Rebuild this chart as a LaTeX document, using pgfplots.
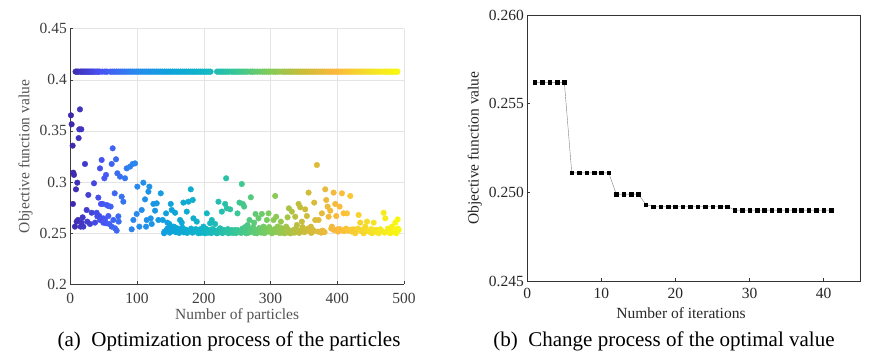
\documentclass[border=0pt]{standalone}
\usepackage{pgfplots}
\pgfplotsset{compat=1.18}
\usepackage{fontspec}
\setmainfont{Liberation Serif}
\definecolor{txtgray}{RGB}{60,60,60}
\definecolor{labgray}{RGB}{85,85,85}
\definecolor{gridgray}{RGB}{228,228,228}
\pgfplotstableread[row sep=\\]{
x y\\
1 0.3653\\ 2 0.3565\\ 3.5 0.3356\\ 4.5 0.3092\\ 5.5 0.3070\\ 4 0.2786\\ 8.5 0.2929\\ 10.5 0.2994\\ 7 0.2564\\ 11.5 0.2629\\
14.5 0.3711\\ 13.5 0.3516\\ 16.5 0.3516\\ 12.5 0.3430\\ 15.5 0.2564\\ 18.5 0.2655\\ 19.5 0.2564\\ 22 0.3177\\ 24.5 0.2727\\ 27 0.2874\\
29.5 0.2590\\ 32 0.2700\\ 35.5 0.2988\\ 39.5 0.2700\\ 42 0.2848\\ 43.5 0.2668\\ 44.5 0.3134\\ 47 0.3216\\ 46 0.2786\\ 48.5 0.2786\\
49.5 0.2645\\ 51 0.3037\\ 53.5 0.3070\\ 54.5 0.2776\\ 57 0.2766\\ 53.5 0.2597\\ 57 0.2668\\ 60.5 0.2760\\ 62 0.3177\\ 63.5 0.3330\\
64.5 0.2629\\ 66.5 0.2890\\ 68.5 0.3223\\ 69.5 0.2525\\ 70.5 0.3086\\ 72.5 0.2613\\ 74.5 0.3053\\ 77 0.2857\\ 79.5 0.2808\\ 82 0.3037\\
84.5 0.3134\\ 89.5 0.3151\\ 93.5 0.3177\\ 97 0.3183\\ 92 0.2538\\ 94.5 0.2629\\ 99.5 0.2688\\ 100.5 0.2955\\ 103.5 0.2564\\ 107 0.2727\\
109.5 0.2994\\ 112 0.2831\\ 113.5 0.2564\\ 114.5 0.2629\\ 117 0.2906\\ 118.5 0.2955\\ 120.5 0.2645\\ 122 0.2590\\ 124.5 0.2786\\ 127 0.2720\\
129.5 0.2792\\ 132 0.2629\\ 135.5 0.2890\\ 138.5 0.2629\\ 140.5 0.2499\\ 143.5 0.2694\\ 145.5 0.2603\\ 148.5 0.2590\\ 150.5 0.2786\\ 152 0.2727\\
154.5 0.2564\\ 157 0.2700\\ 159.5 0.2548\\ 162 0.2531\\ 164.5 0.2629\\ 167 0.2603\\ 169.5 0.2799\\ 172 0.2515\\ 174.5 0.2711\\ 177 0.2808\\
180.5 0.2929\\ 183.5 0.2825\\ 184.5 0.2645\\ 187 0.2531\\ 189.5 0.2613\\ 192 0.2499\\ 194.5 0.2538\\ 197 0.2515\\ 199.5 0.2564\\ 202 0.2499\\
204.5 0.2694\\ 207 0.2531\\ 209.5 0.2597\\ 212 0.2629\\ 214.5 0.2531\\ 217 0.2590\\ 219.5 0.2499\\ 222 0.2808\\ 224.5 0.2548\\ 227 0.2711\\
229.5 0.2531\\ 232 0.2786\\ 233.5 0.3037\\ 234.5 0.2743\\ 237 0.2499\\ 239.5 0.2733\\ 242 0.2531\\ 244.5 0.2515\\ 247 0.2531\\ 250.5 0.2694\\
253.5 0.2799\\ 255.5 0.2515\\ 257 0.2981\\ 258.5 0.2786\\ 260.5 0.2760\\ 263.5 0.2499\\ 265.5 0.2580\\ 268.5 0.2629\\ 270.5 0.2851\\ 272.5 0.2531\\
275.5 0.2603\\ 277.5 0.2688\\ 279.5 0.2499\\ 282 0.2645\\ 284.5 0.2531\\ 287 0.2688\\ 289.5 0.2564\\ 292 0.2515\\ 294.5 0.2629\\ 297 0.2694\\
299.5 0.2531\\ 302 0.2499\\ 304.5 0.2629\\ 307 0.2864\\ 308.5 0.2661\\ 310.5 0.2564\\ 313.5 0.2515\\ 315.5 0.2613\\ 318.5 0.2531\\ 320.5 0.2499\\
323.5 0.2564\\ 325.5 0.2655\\ 327.5 0.2743\\ 329.5 0.2499\\ 332 0.2711\\ 334.5 0.2531\\ 337 0.2661\\ 339.5 0.2580\\ 342 0.2786\\ 344.5 0.2753\\
347 0.2613\\ 349.5 0.2515\\ 352 0.2733\\ 354.5 0.2668\\ 357 0.2897\\ 358.5 0.2531\\ 360.5 0.2564\\ 363.5 0.2515\\ 365.5 0.2799\\ 367 0.2629\\
369.5 0.3167\\ 372 0.2629\\ 374.5 0.2515\\ 377 0.2694\\ 379.5 0.2515\\ 382 0.2929\\ 383.5 0.2825\\ 385.5 0.2760\\ 387 0.2661\\ 389.5 0.2720\\
392 0.2564\\ 394.5 0.2897\\ 397 0.2786\\ 398.5 0.2668\\ 400.5 0.2538\\ 403.5 0.2760\\ 405.5 0.2531\\ 407 0.2890\\ 409.5 0.2694\\ 412 0.2531\\
414.5 0.2694\\ 417 0.2531\\ 419.5 0.2864\\ 422 0.2515\\ 424.5 0.2538\\ 427 0.2499\\ 429.5 0.2531\\ 432 0.2678\\ 434.5 0.2603\\ 437 0.2531\\
439.5 0.2499\\ 442 0.2564\\ 444.5 0.2613\\ 447 0.2515\\ 449.5 0.2531\\ 452 0.2499\\ 454.5 0.2603\\ 457 0.2515\\ 459.5 0.2531\\ 462 0.2499\\
464.5 0.2538\\ 469.5 0.2700\\ 472 0.2645\\ 474.5 0.2515\\ 477 0.2531\\ 479.5 0.2499\\ 482 0.2564\\ 484.5 0.2515\\ 487 0.2603\\ 488.5 0.2499\\
490.5 0.2635\\ 492 0.2531\\
9.5 0.2613\\ 17 0.2603\\ 25.5 0.2613\\ 37 0.2603\\ 40.5 0.2665\\ 44.5 0.2629\\ 49.5 0.2603\\ 52 0.2629\\ 58.5 0.2590\\ 62 0.2564\\
67 0.2548\\ 72 0.2665\\
141 0.2515\\ 144 0.2531\\ 146 0.2548\\ 149 0.2505\\ 151 0.2540\\ 153 0.2520\\ 156 0.2560\\ 158 0.2510\\ 161 0.2545\\ 163 0.2502\\
166 0.2525\\ 168 0.2555\\ 170 0.2508\\ 173 0.2535\\ 175 0.2502\\ 178 0.2520\\ 181 0.2545\\ 183 0.2505\\ 186 0.2515\\ 188 0.2540\\
191 0.2510\\ 193 0.2525\\ 196 0.2502\\ 198 0.2535\\ 201 0.2515\\ 203 0.2545\\ 206 0.2505\\ 208 0.2520\\ 211 0.2500\\ 213 0.2540\\
216 0.2510\\ 218 0.2525\\ 221 0.2502\\ 223 0.2535\\ 226 0.2515\\ 228 0.2500\\ 231 0.2525\\ 233 0.2510\\ 236 0.2540\\ 238 0.2505\\
241 0.2520\\ 243 0.2502\\ 246 0.2515\\ 248 0.2500\\ 251 0.2530\\ 253 0.2510\\ 256 0.2502\\ 258 0.2545\\ 261 0.2515\\ 262 0.2560\\
264 0.2525\\ 267 0.2505\\ 269 0.2540\\ 271 0.2515\\ 274 0.2560\\ 276 0.2502\\ 278 0.2530\\ 281 0.2510\\ 283 0.2550\\ 286 0.2505\\
288 0.2535\\ 291 0.2500\\ 293 0.2545\\ 296 0.2515\\ 298 0.2560\\ 301 0.2525\\ 303 0.2505\\ 306 0.2540\\ 309 0.2510\\ 311 0.2530\\
314 0.2500\\ 316 0.2550\\ 319 0.2515\\ 322 0.2525\\ 324 0.2505\\ 326 0.2540\\ 328 0.2510\\ 331 0.2502\\ 333 0.2520\\ 336 0.2505\\
338 0.2545\\ 341 0.2515\\ 343 0.2502\\ 346 0.2530\\ 348 0.2560\\ 351 0.2510\\ 353 0.2525\\ 356 0.2545\\ 359 0.2515\\ 361 0.2502\\
364 0.2530\\ 371 0.2515\\ 376 0.2505\\ 378 0.2525\\ 381 0.2510\\ 391 0.2545\\ 395 0.2530\\ 401 0.2515\\ 404 0.2540\\ 410 0.2520\\
413 0.2545\\ 416 0.2525\\ 421 0.2535\\ 426 0.2515\\ 431 0.2545\\ 436 0.2520\\ 441 0.2535\\ 446 0.2525\\ 451 0.2540\\ 456 0.2530\\
461 0.2515\\ 466 0.2525\\ 471 0.2505\\ 476 0.2545\\ 481 0.2520\\ 486 0.2535\\ 489 0.2515\\ 491 0.2545\\
}\lowpts
\pgfplotstableread[row sep=\\]{
x y\\
8 0.408\\ 10 0.408\\ 12 0.408\\ 15 0.408\\ 17 0.408\\ 19 0.408\\ 21 0.408\\ 23 0.408\\ 25 0.408\\ 27 0.408\\
29 0.408\\ 31 0.408\\ 33 0.408\\ 35 0.408\\ 37 0.408\\ 40 0.408\\ 42 0.408\\ 44 0.408\\ 48 0.408\\ 52 0.408\\
55 0.408\\ 60 0.408\\ 63 0.408\\ 66 0.408\\ 69 0.408\\ 72 0.408\\ 75 0.408\\ 78 0.408\\ 81 0.408\\ 84 0.408\\
87 0.408\\ 90 0.408\\ 93 0.408\\ 96 0.408\\ 99 0.408\\ 102 0.408\\ 105 0.408\\ 108 0.408\\ 111 0.408\\ 114 0.408\\
117 0.408\\ 120 0.408\\ 123 0.408\\ 126 0.408\\ 129 0.408\\ 132 0.408\\ 135 0.408\\ 138 0.408\\ 141 0.408\\ 144 0.408\\
147 0.408\\ 150 0.408\\ 153 0.408\\ 156 0.408\\ 159 0.408\\ 162 0.408\\ 165 0.408\\ 168 0.408\\ 171 0.408\\ 174 0.408\\
177 0.408\\ 180 0.408\\ 183 0.408\\ 186 0.408\\ 189 0.408\\ 192 0.408\\ 195 0.408\\ 198 0.408\\ 201 0.408\\ 204 0.408\\
207 0.408\\ 210 0.408\\ 220 0.408\\ 223 0.408\\ 226 0.408\\ 229 0.408\\ 232 0.408\\ 235 0.408\\ 238 0.408\\ 242 0.408\\
245 0.408\\ 248 0.408\\ 251 0.408\\ 254 0.408\\ 257 0.408\\ 260 0.408\\ 263 0.408\\ 266 0.408\\ 270 0.408\\ 273 0.408\\
276 0.408\\ 280 0.408\\ 284 0.408\\ 288 0.408\\ 291 0.408\\ 294 0.408\\ 297 0.408\\ 300 0.408\\ 304 0.408\\ 307 0.408\\
310 0.408\\ 314 0.408\\ 318 0.408\\ 321 0.408\\ 324 0.408\\ 327 0.408\\ 330 0.408\\ 333 0.408\\ 336 0.408\\ 339 0.408\\
342 0.408\\ 345 0.408\\ 348 0.408\\ 351 0.408\\ 354 0.408\\ 357 0.408\\ 360 0.408\\ 363 0.408\\ 366 0.408\\ 369 0.408\\
372 0.408\\ 375 0.408\\ 378 0.408\\ 381 0.408\\ 384 0.408\\ 387 0.408\\ 390 0.408\\ 393 0.408\\ 396 0.408\\ 399 0.408\\
402 0.408\\ 405 0.408\\ 408 0.408\\ 411 0.408\\ 414 0.408\\ 417 0.408\\ 420 0.408\\ 423 0.408\\ 426 0.408\\ 429 0.408\\
432 0.408\\ 435 0.408\\ 438 0.408\\ 441 0.408\\ 444 0.408\\ 447 0.408\\ 450 0.408\\ 453 0.408\\ 456 0.408\\ 459 0.408\\
462 0.408\\ 466 0.408\\ 470 0.408\\ 473 0.408\\ 476 0.408\\ 479 0.408\\ 482 0.408\\ 485 0.408\\ 488 0.408\\ 490 0.408\\
}\toppts
\pgfplotstableread[row sep=\\]{
x y\\
1 0.2562\\ 2 0.2562\\ 3 0.2562\\ 4 0.2562\\ 5 0.2562\\
6 0.2511\\ 7 0.2511\\ 8 0.2511\\ 9 0.2511\\ 10 0.2511\\ 11 0.2511\\
12 0.2499\\ 13 0.2499\\ 14 0.2499\\ 15 0.2499\\
16 0.2493\\
17 0.2492\\ 18 0.2492\\ 19 0.2492\\ 20 0.2492\\ 21 0.2492\\ 22 0.2492\\ 23 0.2492\\ 24 0.2492\\ 25 0.2492\\ 26 0.2492\\ 27 0.2492\\
28 0.2490\\ 29 0.2490\\ 30 0.2490\\ 31 0.2490\\ 32 0.2490\\ 33 0.2490\\ 34 0.2490\\ 35 0.2490\\ 36 0.2490\\ 37 0.2490\\ 38 0.2490\\ 39 0.2490\\ 40 0.2490\\ 41 0.2490\\
}\bestpts
\begin{document}
\begin{tikzpicture}
\path[use as bounding box] (0,0) rectangle (873pt,357pt);
\begin{axis}[
  at={(70.3pt,72.7pt)}, anchor=south west,
  width=333.7pt, height=255.6pt, scale only axis,
  xmin=0, xmax=500, ymin=0.2, ymax=0.45,
  xtick={0,100,...,500}, ytick={0.2,0.25,0.3,0.35,0.4,0.45},
  yticklabels={0.2,0.25,0.3,0.35,0.4,0.45},
  axis x line*=bottom, axis y line*=left,
  axis line style={txtgray, line width=0.6pt, -},
  tick style={txtgray, line width=0.5pt},
  tick align=inside, major tick length=3pt,
  grid=major, grid style={gridgray, line width=0.5pt},
  ticklabel style={font=\fontsize{15.5}{16}\selectfont, text=txtgray},
  xticklabel style={yshift=-5.5pt},
  label style={font=\fontsize{15.5}{16}\selectfont, text=labgray},
  xlabel={Number of particles}, ylabel={Objective function value},
  xlabel style={yshift=2pt},
  /pgf/number format/assume math mode=true,
  colormap={parula}{rgb255=(62,38,168) rgb255=(71,85,245) rgb255=(40,138,238) rgb255=(14,163,220) rgb255=(16,181,200) rgb255=(55,199,150) rgb255=(129,204,89) rgb255=(202,188,57) rgb255=(252,185,60) rgb255=(245,225,40) rgb255=(249,251,14)},
  point meta min=0, point meta max=500,
  clip=false,
]
\addplot[scatter, only marks, mark=*, mark size=2.9pt, point meta=x,
  scatter/use mapped color={draw=mapped color, fill=mapped color}] table[x=x,y=y] {\toppts};
\addplot[scatter, only marks, mark=*, mark size=2.8pt, point meta=x,
  scatter/use mapped color={draw=mapped color, fill=mapped color}] table[x=x,y=y] {\lowpts};
\end{axis}
\begin{axis}[
  at={(527.3pt,76pt)}, anchor=south west,
  width=333.4pt, height=266pt, scale only axis,
  xmin=0, xmax=45, ymin=0.245, ymax=0.260,
  xtick={0,10,20,30,40}, ytick={0.245,0.250,0.255,0.260},
  yticklabel style={/pgf/number format/.cd, fixed, fixed zerofill, precision=3},
  axis line style={black!80, line width=0.7pt},
  tick style={black!80, line width=0.5pt},
  tick align=inside, major tick length=3pt,
  xtick pos=bottom, ytick pos=left,
  ticklabel style={font=\fontsize{15.5}{16}\selectfont, text=black!85},
  xticklabel style={yshift=-3.7pt},
  label style={font=\fontsize{15.5}{16}\selectfont, text=black!85},
  xlabel={Number of iterations}, ylabel={Objective function value},
  xlabel style={yshift=-2.5pt, xshift=-13pt},
  /pgf/number format/assume math mode=true,
]
\addplot[gray, line width=0.4pt, mark=square*, mark size=1.8pt, mark options={black, solid}] table[x=x,y=y] {\bestpts};
\end{axis}
\node[font=\fontsize{21}{22}\selectfont] at (229pt,15.3pt) {(a)\ \ Optimization process of the particles};
\node[font=\fontsize{21}{22}\selectfont] at (664pt,15.3pt) {(b)\ \ Change process of the optimal value};
\end{tikzpicture}
\end{document}
